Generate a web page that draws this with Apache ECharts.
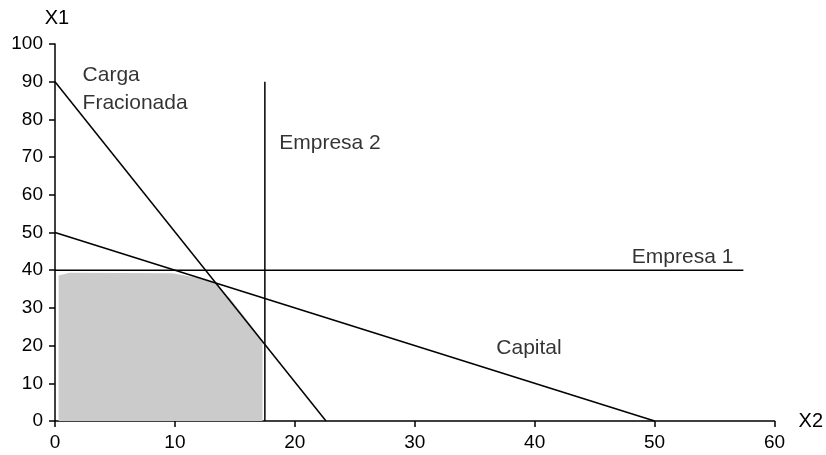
<!DOCTYPE html>
<html>
<head>
<meta charset="utf-8">
<script src="https://cdn.jsdelivr.net/npm/echarts@6/dist/echarts.min.js"></script>
<style>html,body{margin:0;padding:0;background:#fff;}#c{width:826px;height:455px;}</style>
</head>
<body>
<div id="c"></div>
<script>
// Constraint lines (x = X2, y = X1)
const cargaFracionada = [[0, 90], [22.6, 0]];
const capital = [[0, 50], [50, 0]];
const empresa1 = [[0, 40], [57.4, 40]];
const empresa2 = [[17.5, 0], [17.5, 90]];
// Top boundary of shaded feasible region
const feasibleTop = [[0.3, 38.6], [1.2, 39.3], [9.8, 39.2], [12.2, 37.8], [13.4, 36.4], [14.6, 32.5], [16.2, 26], [17.3, 21.3]];
// Annotations
const labelTexts = ['Carga\nFracionada', 'Empresa 2', 'Empresa 1', 'Capital'];
const labelAt = [[2.3, 95.4], [18.7, 73.7], [48.1, 43.5], [36.8, 19.4]];
const xTicks = [0, 10, 20, 30, 40, 50, 60];
const yTicks = [0, 10, 20, 30, 40, 50, 60, 70, 80, 90, 100];

const FONT = 'Liberation Sans, Arial, sans-serif';
const chart = echarts.init(document.getElementById('c'));
const lineStyle = { color: '#000', width: 1.5 };
function lineSeries(data) {
  return { type: 'line', data: data, symbol: 'none', lineStyle: lineStyle, silent: true, z: 3 };
}
chart.setOption({
  animation: false,
  grid: { left: 55, right: 51, top: 44, bottom: 34, containLabel: false },
  xAxis: {
    type: 'value', min: 0, max: 60, interval: 10,
    name: 'X2', nameLocation: 'end', nameGap: 24,
    nameTextStyle: { color: '#000', fontSize: 20, fontFamily: FONT, verticalAlign: 'middle', align: 'left' },
    axisLine: { show: true, lineStyle: { color: '#000', width: 1.5 } },
    axisTick: { show: true, inside: false, length: 6, lineStyle: { color: '#000', width: 1.5 } },
    axisLabel: { color: '#000', fontSize: 19, fontFamily: FONT, margin: 12, formatter: v => xTicks.includes(v) ? String(v) : '' },
    splitLine: { show: false }
  },
  yAxis: {
    type: 'value', min: 0, max: 100, interval: 10,
    name: 'X1', nameLocation: 'end', nameGap: 26,
    nameTextStyle: { color: '#000', fontSize: 20, fontFamily: FONT, align: 'center', verticalAlign: 'middle', padding: [0, 0, 0, 4] },
    axisLine: { show: true, lineStyle: { color: '#000', width: 1.5 } },
    axisTick: { show: true, inside: false, length: 6, lineStyle: { color: '#000', width: 1.5 } },
    axisLabel: { color: '#000', fontSize: 19, fontFamily: FONT, margin: 12, formatter: v => yTicks.includes(v) ? String(v) : '' },
    splitLine: { show: false }
  },
  series: [
    { type: 'line', data: feasibleTop, symbol: 'none', lineStyle: { width: 0 }, areaStyle: { color: '#cbcbcb', opacity: 1 }, silent: true, z: 1 },
    lineSeries(cargaFracionada),
    lineSeries(capital),
    lineSeries(empresa1),
    lineSeries(empresa2),
    {
      type: 'scatter', symbolSize: 0, silent: true, z: 5,
      data: labelAt.map((p, i) => ({
        value: p, name: labelTexts[i],
        label: { align: 'left', verticalAlign: i === 0 ? 'top' : 'middle' }
      })),
      label: {
        show: true, position: 'inside', formatter: p => p.name,
        color: '#000', fontSize: 21, fontFamily: FONT, lineHeight: 28
      }
    }
  ]
});
</script>
</body>
</html>
